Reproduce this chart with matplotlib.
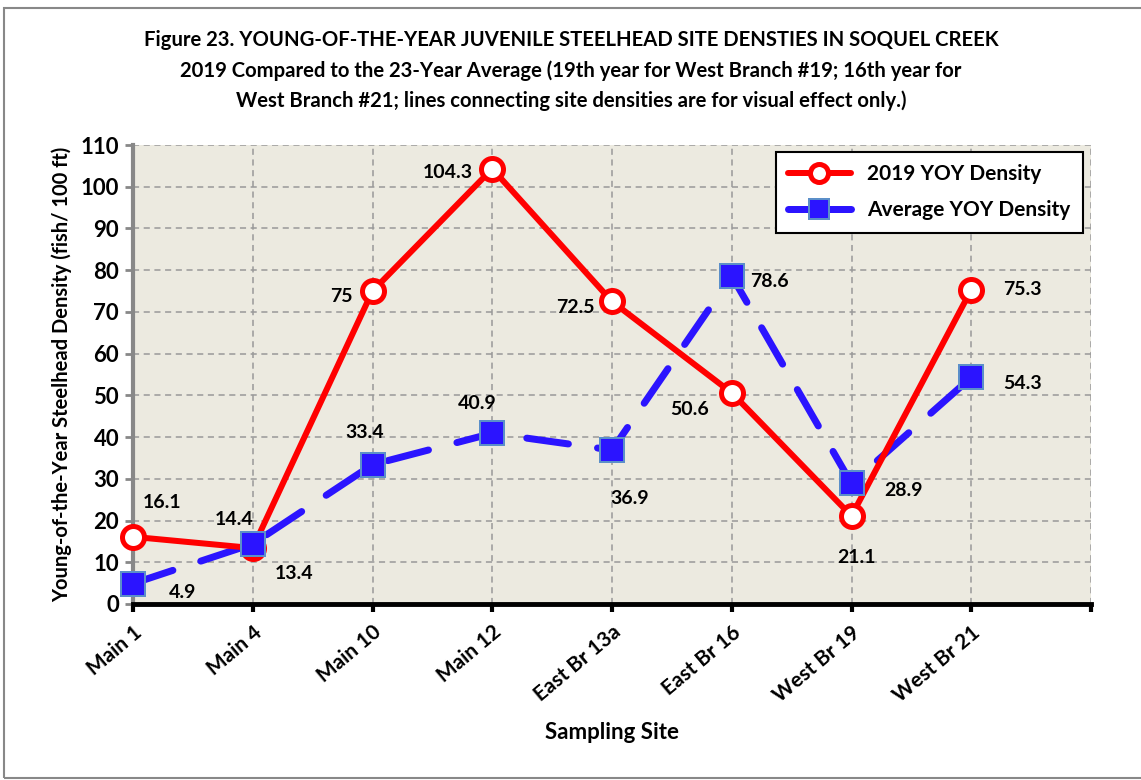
import matplotlib.pyplot as plt
from matplotlib.lines import Line2D

sites = ['Main 1', 'Main 4', 'Main 10', 'Main 12', 'East Br 13a', 'East Br 16', 'West Br 19', 'West Br 21']
yoy_2019 = [16.1, 13.4, 75, 104.3, 72.5, 50.6, 21.1, 75.3]
yoy_avg = [4.9, 14.4, 33.4, 40.9, 36.9, 78.6, 28.9, 54.3]
lab_2019 = ['16.1', '13.4', '75', '104.3', '72.5', '50.6', '21.1', '75.3']
lab_avg = ['4.9', '14.4', '33.4', '40.9', '36.9', '78.6', '28.9', '54.3']

# label offsets in pixels (dx right, dy down)
off_2019 = [(29, -34), (41, 25), (-31, 5), (-44, 4), (-37, 6), (-42, 17), (5, 42), (51, 0)]
off_avg = [(50, 9), (-19, -24), (-8, -32), (-15, -30), (18, 48), (38, 5), (52, 7), (51, 6)]

plt.rcParams['font.family'] = ['Lato', 'DejaVu Sans']
plt.rcParams['font.weight'] = 'bold'

fig = plt.figure(figsize=(11.41, 7.80), dpi=100)
ax = fig.add_axes([133/1141, 1-604/780, (1091-133)/1141, (604-145)/780])
ax.set_facecolor('#ECEAE0')

x = list(range(len(sites)))
pt = 72/100.0
red = '#FF0000'
blue = '#2B14FF'

# lines first, markers on top (as Excel draws them)
ax.plot(x, yoy_avg, color=blue, lw=7*pt, ls=(0, (6, 4.2)), dash_capstyle='round', zorder=3, clip_on=False)
ax.plot(x, yoy_2019, color=red, lw=6*pt, solid_capstyle='round', zorder=4, clip_on=False)
ax.plot(x, yoy_2019, ls='none', marker='o', ms=22*pt, mfc='white', mec=red, mew=5*pt, zorder=5, clip_on=False)
ax.plot(x, yoy_avg, ls='none', marker='s', ms=24*pt, mfc=blue, mec='#5B8FC9', mew=2*pt, zorder=6, clip_on=False)

for i in x:
    ax.annotate(lab_2019[i], (i, yoy_2019[i]), xytext=(off_2019[i][0]*pt, -off_2019[i][1]*pt),
                textcoords='offset points', ha='center', va='center', fontsize=14, fontweight='bold')
    ax.annotate(lab_avg[i], (i, yoy_avg[i]), xytext=(off_avg[i][0]*pt, -off_avg[i][1]*pt),
                textcoords='offset points', ha='center', va='center', fontsize=14, fontweight='bold')

ax.set_xlim(0, 8)
ax.set_ylim(0, 110)
ax.set_yticks(range(0, 111, 10))
ax.set_xticks(range(0, 9))
ax.set_xticklabels(sites + [''], rotation=40, ha='right', rotation_mode='anchor', fontsize=15, fontweight='bold')
ax.tick_params(axis='x', length=6, width=3, color='black', pad=7)
ax.tick_params(axis='y', length=6, width=2, color='#888888', labelsize=16, pad=4)
for lb in ax.get_yticklabels():
    lb.set_fontweight('bold')

ax.grid(True, color='#999999', ls=(0, (4, 3)), lw=1.1)
ax.set_axisbelow(True)
ax.spines['top'].set_visible(False)
ax.spines['right'].set_visible(False)
ax.spines['left'].set_color('#888888')
ax.spines['left'].set_linewidth(3)
ax.spines['bottom'].set_color('black')
ax.spines['bottom'].set_linewidth(3.5)
ax.spines['bottom'].set_zorder(7)

ax.set_xlabel('Sampling Site', fontsize=16, fontweight='bold')
ax.set_ylabel('Young-of-the-Year Steelhead Density (fish/ 100 ft)', fontsize=14.5, fontweight='bold', labelpad=6)
ax.xaxis.set_label_coords((612-133)/(1091-133), -(722-604)/(604-145))

title_lines = [
    'Figure 23. YOUNG-OF-THE-YEAR JUVENILE STEELHEAD SITE DENSTIES IN SOQUEL CREEK',
    '2019 Compared to the 23-Year Average (19th year for West Branch #19; 16th year for',
    'West Branch #21; lines connecting site densities are for visual effect only.)',
]
for line, ypix in zip(title_lines, [40, 71, 101]):
    fig.text(571/1141, 1-ypix/780, line, ha='center', va='center', fontsize=14.6, fontweight='bold')

handles = [
    Line2D([], [], color=red, lw=6*pt, marker='o', ms=18*pt, mfc='white', mec=red, mew=5*pt,
           solid_capstyle='round'),
    Line2D([], [], color=blue, lw=7*pt, marker='s', ms=20*pt, mfc=blue, mec='#5B8FC9', mew=2*pt,
           solid_capstyle='round'),
]
leg = ax.legend(handles, ['2019 YOY Density', 'Average YOY Density'], loc='upper right',
                bbox_to_anchor=((1083-133)/(1091-133), 1-(152-145)/(604-145)), borderaxespad=0,
                frameon=True, fancybox=False, edgecolor='black', framealpha=1, handlelength=3.0,
                borderpad=0.6, labelspacing=0.75, prop={'weight': 'bold', 'size': 15})
leg.get_frame().set_linewidth(1.5)
leg.set_zorder(10)

# outer border
fig.add_artist(plt.Rectangle((4/1141, 2/780), 1.1, 1-10/780, transform=fig.transFigure, fill=False,
                             edgecolor='#888888', lw=1.5))

fig.savefig('out.png', dpi=100)
